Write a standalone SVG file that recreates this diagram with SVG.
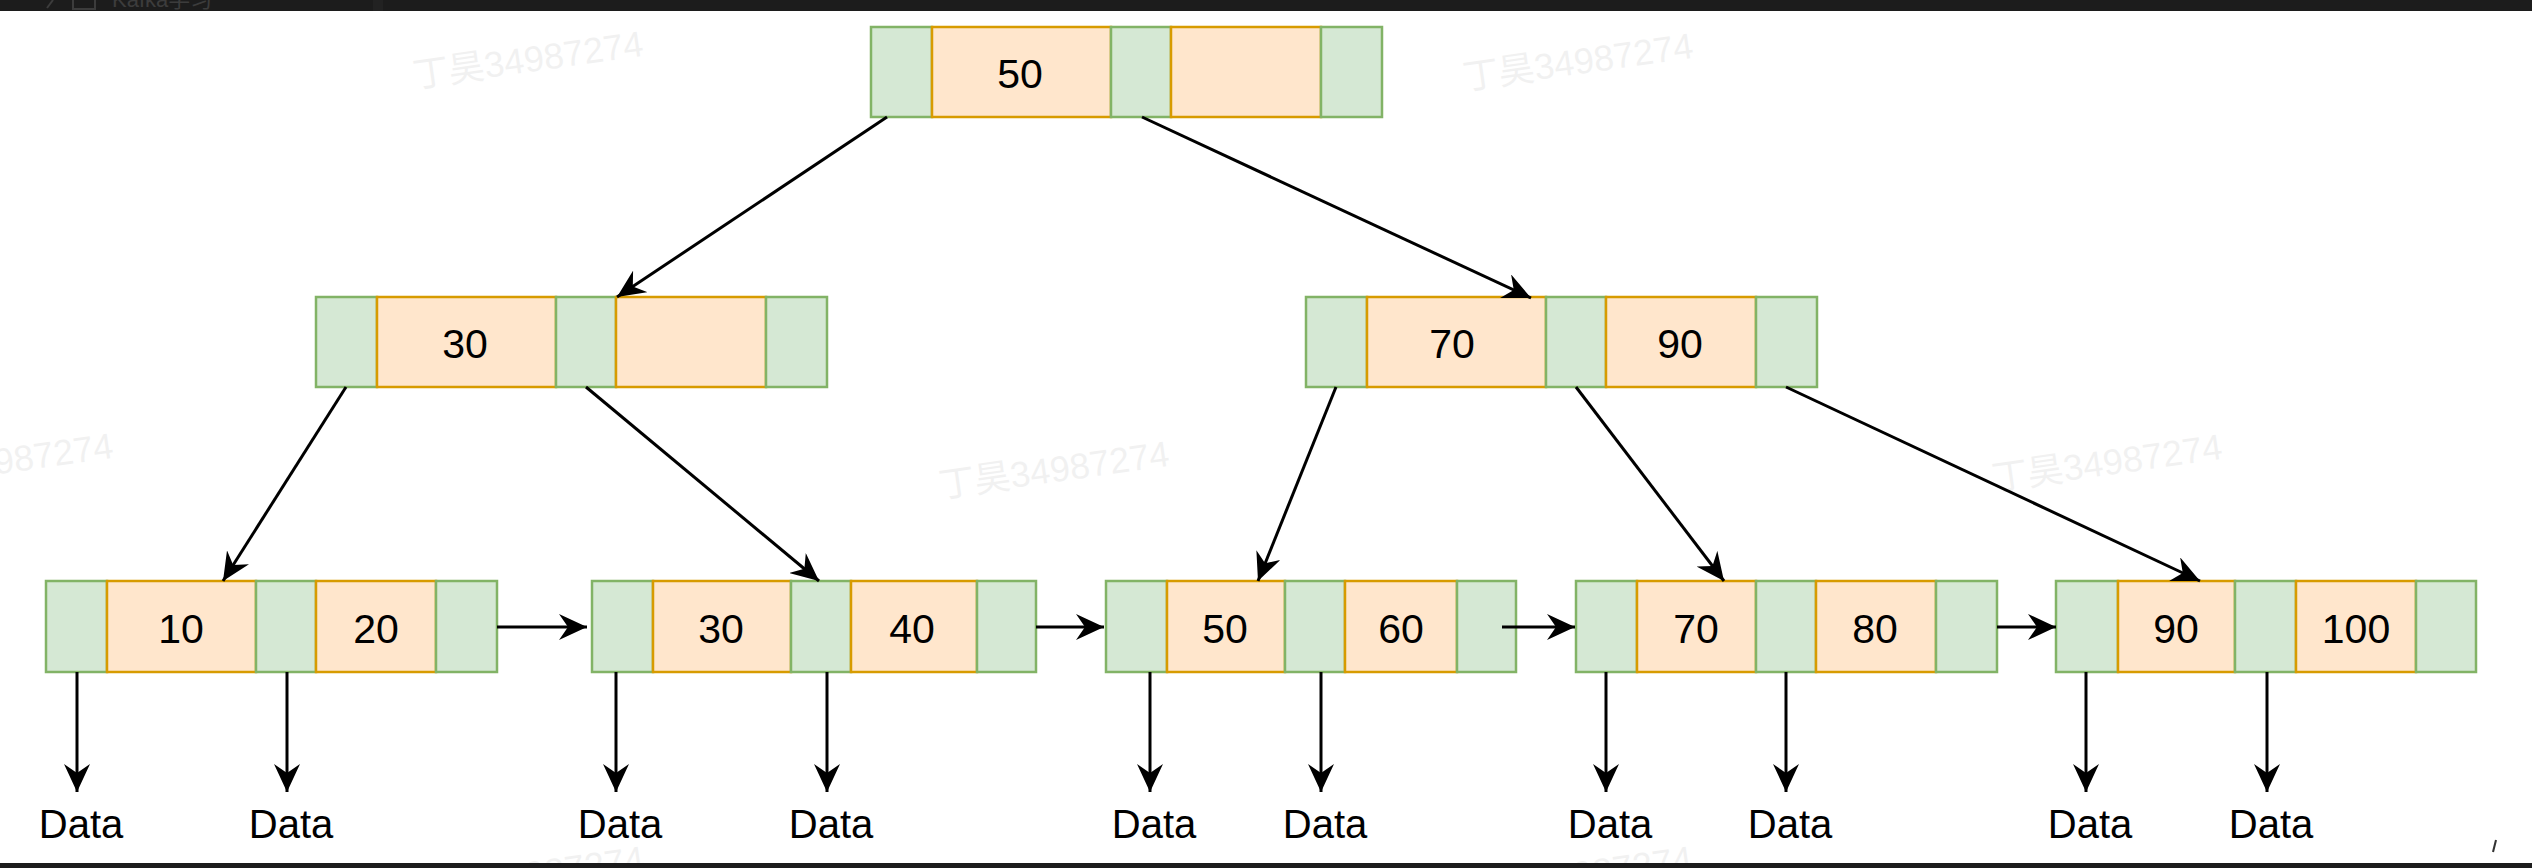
<svg xmlns="http://www.w3.org/2000/svg" width="2532" height="868" viewBox="0 0 2532 868">
<style>
.g{fill:#d5e8d4;stroke:#82b366;stroke-width:2.5}
.o{fill:#ffe6cc;stroke:#d79b00;stroke-width:2.5}
.t{font-family:"Liberation Sans",Arial,Helvetica,sans-serif;font-size:41px;fill:#000;text-anchor:middle}
.d{font-family:"Liberation Sans",Arial,Helvetica,sans-serif;font-size:40px;fill:#000;text-anchor:middle}
.e{fill:none;stroke:#000;stroke-width:3;marker-end:url(#arr)}
.w{font-family:"Liberation Sans","Noto Sans CJK SC",sans-serif;font-size:36px;fill:#000;opacity:0.05;text-anchor:middle}
</style>
<defs>
<marker id="arr" markerUnits="userSpaceOnUse" markerWidth="28" markerHeight="26" viewBox="0 0 28 26" refX="28" refY="13" orient="auto">
<path d="M0,0 L28,13 L0,26 L9,13 Z" fill="#000"/>
</marker>
</defs>
<rect width="2532" height="868" fill="#ffffff"/>
<g id="watermarks">
<text class="w" x="528" y="72" transform="rotate(-8 528 60)">丁昊34987274</text>
<text class="w" x="1578" y="74" transform="rotate(-8 1578 62)">丁昊34987274</text>
<text class="w" x="-2" y="474" transform="rotate(-8 -2 462)">丁昊34987274</text>
<text class="w" x="1054" y="482" transform="rotate(-8 1054 470)">丁昊34987274</text>
<text class="w" x="2107" y="475" transform="rotate(-8 2107 463)">丁昊34987274</text>
<text class="w" x="529" y="887" transform="rotate(-8 529 875)">丁昊34987274</text>
<text class="w" x="1577" y="887" transform="rotate(-8 1577 875)">丁昊34987274</text>
</g>
<g id="root">
<rect class="g" x="871" y="27" width="61" height="90"/>
<rect class="o" x="932" y="27" width="179" height="90"/>
<rect class="g" x="1111" y="27" width="60" height="90"/>
<rect class="o" x="1171" y="27" width="150" height="90"/>
<rect class="g" x="1321" y="27" width="61" height="90"/>
<text class="t" x="1020" y="88">50</text>
</g>
<g id="inner-left">
<rect class="g" x="316" y="297" width="61" height="90"/>
<rect class="o" x="377" y="297" width="179" height="90"/>
<rect class="g" x="556" y="297" width="60" height="90"/>
<rect class="o" x="616" y="297" width="150" height="90"/>
<rect class="g" x="766" y="297" width="61" height="90"/>
<text class="t" x="465" y="358">30</text>
</g>
<g id="inner-right">
<rect class="g" x="1306" y="297" width="61" height="90"/>
<rect class="o" x="1367" y="297" width="179" height="90"/>
<rect class="g" x="1546" y="297" width="60" height="90"/>
<rect class="o" x="1606" y="297" width="150" height="90"/>
<rect class="g" x="1756" y="297" width="61" height="90"/>
<text class="t" x="1452" y="358">70</text>
<text class="t" x="1680" y="358">90</text>
</g>
<g id="leaf1">
<rect class="g" x="46" y="581" width="61" height="91"/>
<rect class="o" x="107" y="581" width="149" height="91"/>
<rect class="g" x="256" y="581" width="60" height="91"/>
<rect class="o" x="316" y="581" width="120" height="91"/>
<rect class="g" x="436" y="581" width="61" height="91"/>
<text class="t" x="181" y="643">10</text>
<text class="t" x="376" y="643">20</text>
</g>
<g id="leaf2">
<rect class="g" x="592" y="581" width="61" height="91"/>
<rect class="o" x="653" y="581" width="138" height="91"/>
<rect class="g" x="791" y="581" width="60" height="91"/>
<rect class="o" x="851" y="581" width="126" height="91"/>
<rect class="g" x="977" y="581" width="59" height="91"/>
<text class="t" x="721" y="643">30</text>
<text class="t" x="912" y="643">40</text>
</g>
<g id="leaf3">
<rect class="g" x="1106" y="581" width="61" height="91"/>
<rect class="o" x="1167" y="581" width="118" height="91"/>
<rect class="g" x="1285" y="581" width="60" height="91"/>
<rect class="o" x="1345" y="581" width="112" height="91"/>
<rect class="g" x="1457" y="581" width="59" height="91"/>
<text class="t" x="1225" y="643">50</text>
<text class="t" x="1401" y="643">60</text>
</g>
<g id="leaf4">
<rect class="g" x="1576" y="581" width="61" height="91"/>
<rect class="o" x="1637" y="581" width="119" height="91"/>
<rect class="g" x="1756" y="581" width="60" height="91"/>
<rect class="o" x="1816" y="581" width="120" height="91"/>
<rect class="g" x="1936" y="581" width="61" height="91"/>
<text class="t" x="1696" y="643">70</text>
<text class="t" x="1875" y="643">80</text>
</g>
<g id="leaf5">
<rect class="g" x="2056" y="581" width="62" height="91"/>
<rect class="o" x="2118" y="581" width="117" height="91"/>
<rect class="g" x="2235" y="581" width="61" height="91"/>
<rect class="o" x="2296" y="581" width="120" height="91"/>
<rect class="g" x="2416" y="581" width="60" height="91"/>
<text class="t" x="2176" y="643">90</text>
<text class="t" x="2356" y="643">100</text>
</g>
<g id="data-labels">
<text class="d" x="81" y="838">Data</text>
<text class="d" x="291" y="838">Data</text>
<text class="d" x="620" y="838">Data</text>
<text class="d" x="831" y="838">Data</text>
<text class="d" x="1154" y="838">Data</text>
<text class="d" x="1325" y="838">Data</text>
<text class="d" x="1610" y="838">Data</text>
<text class="d" x="1790" y="838">Data</text>
<text class="d" x="2090" y="838">Data</text>
<text class="d" x="2271" y="838">Data</text>
</g>
<g id="connectors">
<path class="e" d="M887,117 L617,297"/>
<path class="e" d="M1142,117 L1531,298"/>
<path class="e" d="M346,387 L223,581"/>
<path class="e" d="M586,387 L819,581"/>
<path class="e" d="M1336,387 L1258,581"/>
<path class="e" d="M1576,387 L1724,581"/>
<path class="e" d="M1786,387 L2200,581"/>
<path class="e" d="M497,627 L587,627"/>
<path class="e" d="M1036,627 L1104,627"/>
<path class="e" d="M1502,627 L1575,627"/>
<path class="e" d="M1997,627 L2056,627"/>
<path class="e" d="M77,672 L77,792"/>
<path class="e" d="M287,672 L287,792"/>
<path class="e" d="M616,672 L616,792"/>
<path class="e" d="M827,672 L827,792"/>
<path class="e" d="M1150,672 L1150,792"/>
<path class="e" d="M1321,672 L1321,792"/>
<path class="e" d="M1606,672 L1606,792"/>
<path class="e" d="M1786,672 L1786,792"/>
<path class="e" d="M2086,672 L2086,792"/>
<path class="e" d="M2267,672 L2267,792"/>
</g>
<g id="screen-bars">
<rect x="0" y="0" width="2532" height="11" fill="#1c1c1c"/>
<rect x="373" y="0" width="10" height="11" fill="#222222"/>
<path d="M53,0 L47,8" stroke="#3c3c3c" stroke-width="2" fill="none"/>
<rect x="73" y="-8" width="22" height="17" fill="none" stroke="#3c3c3c" stroke-width="2"/>
<text x="112" y="7" font-family="'Liberation Sans','Noto Sans CJK SC',sans-serif" font-size="22" fill="#3c3c3c">Kafka学习</text>
<rect x="0" y="863" width="2532" height="5" fill="#1c1c1c"/>
<path d="M2496,840 L2493,852" stroke="#333333" stroke-width="2" fill="none"/>
</g>
</svg>
